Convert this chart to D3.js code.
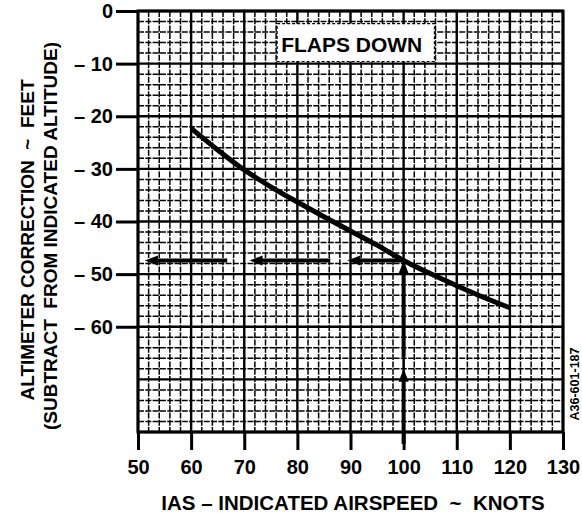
<!DOCTYPE html>
<html>
<head>
<meta charset="utf-8">
<script src="https://cdn.jsdelivr.net/npm/d3@7"></script>
<style>
  html, body { margin: 0; padding: 0; background: #fff; }
  svg { display: block; }
  text { font-family: "Liberation Sans", Arial, Helvetica, sans-serif; font-weight: bold; fill: #000; }
</style>
</head>
<body>
<svg id="chart" width="582" height="513"></svg>
<script>
// Altimeter correction (feet) vs indicated airspeed (knots), flaps down
const airspeedKnots = [60, 65, 70, 75, 80, 85, 90, 95, 100, 105, 110, 115, 120];
const correctionFeet = [-22.3, -26.4, -30.2, -33.4, -36.3, -39.1, -41.8, -44.5, -47.4, -49.9, -52.2, -54.4, -56.4];

const xTickValues = [50, 60, 70, 80, 90, 100, 110, 120, 130];
const yTickValues = [0, -10, -20, -30, -40, -50, -60];
const yTickLabels = ["0", "\u2013 10", "\u2013 20", "\u2013 30", "\u2013 40", "\u2013 50", "\u2013 60"];

// Worked example: enter at 100 knots, read across to the correction scale
const exampleSpeed = 100;
const leftArrowRuns = [[100, 89.4], [86.2, 71.0], [66.8, 51.3]];   // [start, tip] in knots
const upArrowTip = -68;                                             // lower arrowhead tip, feet

const svg = d3.select("#chart");

const x = d3.scaleLinear().domain([50, 130]).range([138, 563]);
const y = d3.scaleLinear().domain([0, -80]).range([11, 432]);

// ---- grid ----
const grid = svg.append("g");
const xs = d3.range(50, 131, 2);
const ys = d3.range(0, -81, -2);

grid.selectAll("line.v").data(xs).join("line")
  .attr("x1", d => x(d)).attr("x2", d => x(d))
  .attr("y1", y(0)).attr("y2", y(-80))
  .attr("stroke", "#000")
  .attr("stroke-width", d => d % 10 === 0 ? 2.4 : 1.5)
  .attr("stroke-dasharray", d => d % 10 === 0 ? null : "6 1.3");

grid.selectAll("line.h").data(ys).join("line")
  .attr("y1", d => y(d)).attr("y2", d => y(d))
  .attr("x1", x(50)).attr("x2", x(130))
  .attr("stroke", "#000")
  .attr("stroke-width", d => d % 10 === 0 ? 2.4 : 1.5)
  .attr("stroke-dasharray", d => d % 10 === 0 ? null : "6 1.3");

// ---- legend box ----
svg.append("rect")
  .attr("x", x(76) + 1).attr("y", y(-2.4))
  .attr("width", x(105.8) - x(76) - 1).attr("height", y(-9.6) - y(-2.4))
  .attr("fill", "#fff")
  .attr("stroke", "#000").attr("stroke-width", 1.2).attr("stroke-dasharray", "3 2");
svg.append("text")
  .attr("x", x(76) + 5).attr("y", 52)
  .attr("font-size", 21)
  .text("FLAPS DOWN");

// ---- frame ----
svg.append("rect")
  .attr("x", x(50)).attr("y", y(0))
  .attr("width", x(130) - x(50)).attr("height", y(-80) - y(0))
  .attr("fill", "none").attr("stroke", "#000").attr("stroke-width", 3);

// ---- axes ----
const xAxis = d3.axisBottom(x).tickValues(xTickValues).tickSize(18).tickPadding(10).tickFormat(d3.format("d"));
const gx = svg.append("g").attr("transform", `translate(0,${y(-80)})`).call(xAxis);
gx.select(".domain").remove();
gx.selectAll(".tick line").attr("stroke", "#000").attr("stroke-width", 3);
gx.selectAll(".tick text").attr("font-size", 20).attr("font-family", "Liberation Sans, Arial, sans-serif").attr("font-weight", "bold").attr("fill", "#000");

const yAxis = d3.axisLeft(y).tickValues(yTickValues).tickSize(22).tickPadding(3)
  .tickFormat((d, i) => yTickLabels[i]);
const gy = svg.append("g").attr("transform", `translate(${x(50)},0)`).call(yAxis);
gy.select(".domain").remove();
gy.selectAll(".tick line").attr("stroke", "#000").attr("stroke-width", 3);
gy.selectAll(".tick text").attr("font-size", 20).attr("font-family", "Liberation Sans, Arial, sans-serif").attr("font-weight", "bold").attr("fill", "#000");

// ---- correction curve ----
const curve = d3.line()
  .x((d, i) => x(airspeedKnots[i]))
  .y(d => y(d))
  .curve(d3.curveMonotoneX);
svg.append("path")
  .attr("d", curve(correctionFeet))
  .attr("fill", "none").attr("stroke", "#000").attr("stroke-width", 5);

// ---- example arrows ----
const exampleCorr = correctionFeet[airspeedKnots.indexOf(exampleSpeed)];
const ay = y(exampleCorr);
const arrows = svg.append("g");

function arrowHead(tx, ty, dir) {
  // dir: "left" or "up"
  const L = 13, W = 5;
  const pts = dir === "left"
    ? [[tx, ty], [tx + L, ty - W], [tx + L, ty + W]]
    : [[tx, ty], [tx - W, ty + L], [tx + W, ty + L]];
  arrows.append("path").attr("d", "M" + pts.join("L") + "Z").attr("fill", "#000");
}

leftArrowRuns.forEach(([a, b]) => {
  arrows.append("line")
    .attr("x1", x(a)).attr("x2", x(b) + 6)
    .attr("y1", ay).attr("y2", ay)
    .attr("stroke", "#000").attr("stroke-width", 4);
  arrowHead(x(b), ay, "left");
});

// vertical run from the bottom of the grid up to the curve
const vx = x(exampleSpeed);
arrows.append("line").attr("x1", vx).attr("x2", vx)
  .attr("y1", y(-80) + 12).attr("y2", y(upArrowTip) + 6)
  .attr("stroke", "#000").attr("stroke-width", 4);
arrowHead(vx, y(upArrowTip), "up");
arrows.append("line").attr("x1", vx).attr("x2", vx)
  .attr("y1", y(upArrowTip)).attr("y2", y(upArrowTip) - 12)
  .attr("stroke", "#000").attr("stroke-width", 1.6);
arrows.append("line").attr("x1", vx).attr("x2", vx)
  .attr("y1", y(upArrowTip) - 12).attr("y2", ay + 6)
  .attr("stroke", "#000").attr("stroke-width", 4);
arrowHead(vx, ay, "up");

// ---- titles ----
svg.append("text")
  .attr("transform", "translate(34,240) rotate(-90)")
  .attr("text-anchor", "middle").attr("font-size", 19)
  .attr("xml:space", "preserve")
  .text("ALTIMETER CORRECTION  ~  FEET");
svg.append("text")
  .attr("transform", "translate(57,236) rotate(-90)")
  .attr("text-anchor", "middle").attr("font-size", 19)
  .attr("xml:space", "preserve")
  .text("(SUBTRACT  FROM INDICATED ALTITUDE)");
svg.append("text")
  .attr("x", 353).attr("y", 510)
  .attr("text-anchor", "middle").attr("font-size", 20.5)
  .attr("xml:space", "preserve")
  .text("IAS \u2013 INDICATED AIRSPEED  ~  KNOTS");
svg.append("text")
  .attr("transform", "translate(579,384) rotate(-90)")
  .attr("text-anchor", "middle").attr("font-size", 12.5)
  .text("A36-601-187");
</script>
</body>
</html>
